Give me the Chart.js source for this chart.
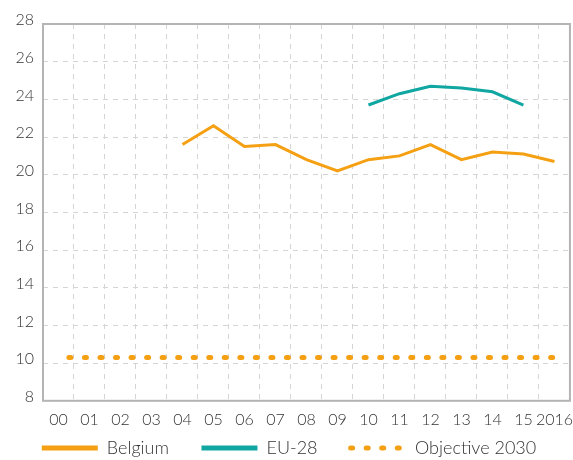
<!DOCTYPE html>
<html>
<head>
<meta charset="utf-8">
<script src="https://cdn.jsdelivr.net/npm/chart.js@4"></script>
<style>
  html, body { margin: 0; padding: 0; background: #ffffff; }
  #wrap { width: 573px; height: 460px; position: relative; }
</style>
</head>
<body>
<div id="wrap"><canvas id="c" width="573" height="460"></canvas></div>
<script>
const categories = ['00','01','02','03','04','05','06','07','08','09','10','11','12','13','14','15','2016'];
const belgium = [null, null, null, null, 21.6, 22.6, 21.5, 21.6, 20.8, 20.2, 20.8, 21.0, 21.6, 20.8, 21.2, 21.1, 20.7];
const eu28 = [null, null, null, null, null, null, null, null, null, null, 23.7, 24.3, 24.7, 24.6, 24.4, 23.7, null];
const objective2030 = [10.3, 10.3, 10.3, 10.3, 10.3, 10.3, 10.3, 10.3, 10.3, 10.3, 10.3, 10.3, 10.3, 10.3, 10.3, 10.3, 10.3];
const seriesNames = ['Belgium', 'EU-28', 'Objective 2030'];
const yMin = 8, yMax = 28, yStep = 2;

const ORANGE = '#f5a012';
const TEAL = '#10a7a2';
const TEXT = '#333333';
const FONT = { family: 'Lato, "Open Sans", sans-serif', size: 16, weight: 300 };
const LEGEND_FONT = { family: 'Lato, "Open Sans", sans-serif', size: 18, weight: 300 };

Chart.defaults.font.family = FONT.family;
Chart.defaults.font.size = 16;
Chart.defaults.color = TEXT;

const frame = {
  id: 'frame',
  beforeDatasetsDraw(chart) {
    const a = chart.chartArea, ctx = chart.ctx;
    ctx.save();
    ctx.strokeStyle = '#b4b4b4';
    ctx.lineWidth = 2;
    ctx.strokeRect(a.left, a.top, a.right - a.left, a.bottom - a.top);
    ctx.restore();
  }
};

new Chart(document.getElementById('c'), {
  type: 'line',
  data: {
    labels: categories,
    datasets: [
      { label: seriesNames[0], data: belgium, borderColor: ORANGE, backgroundColor: ORANGE,
        borderWidth: 3, pointRadius: 0, tension: 0, spanGaps: false },
      { label: seriesNames[1], data: eu28, borderColor: TEAL, backgroundColor: TEAL,
        borderWidth: 3, pointRadius: 0, tension: 0, spanGaps: false },
      { label: seriesNames[2], data: objective2030, borderColor: ORANGE, backgroundColor: ORANGE,
        borderWidth: 5, pointRadius: 0, tension: 0, borderDash: [2, 13.54], borderDashOffset: -10.4,
        borderCapStyle: 'round' }
    ]
  },
  options: {
    responsive: false,
    animation: false,
    devicePixelRatio: 1,
    layout: { padding: { top: 24, right: -5, bottom: -7, left: 0 } },
    plugins: {
      title: { display: false },
      tooltip: { enabled: false },
      legend: {
        display: true,
        position: 'bottom',
        align: 'center',
        labels: {
          boxWidth: 56,
          boxHeight: 0,
          padding: 10,
          font: LEGEND_FONT,
          color: TEXT,
          generateLabels(chart) {
            return chart.data.datasets.map((ds, i) => ({
              text: ds.label + (i < 2 ? '\u2002\u2002\u2005' : ''),
              fillStyle: 'rgba(0,0,0,0)',
              strokeStyle: ds.borderColor,
              lineWidth: 5,
              lineCap: 'round',
              lineDash: ds.borderDash ? [2, 13.54] : [],
              lineDashOffset: ds.borderDash ? -0.61 : 0,
              hidden: false,
              datasetIndex: i,
              fontColor: TEXT
            }));
          }
        }
      }
    },
    scales: {
      x: {
        type: 'category',
        offset: true,
        grid: { display: true, offset: true, color: '#d4d4d4', lineWidth: 1, drawTicks: true,
                tickLength: 9, tickColor: 'rgba(0,0,0,0)' },
        border: { display: false, dash: [5, 5] },
        ticks: { autoSkip: false, maxRotation: 0, minRotation: 0, padding: 0, font: FONT, color: TEXT }
      },
      y: {
        min: yMin, max: yMax,
        grid: { display: true, color: '#d4d4d4', lineWidth: 1, drawTicks: false },
        border: { display: false, dash: [5, 5] },
        ticks: { stepSize: yStep, padding: 9, labelOffset: -4, font: FONT, color: TEXT },
        afterFit(scale) { scale.width = 43; }
      }
    }
  },
  plugins: [frame]
});
</script>
</body>
</html>
